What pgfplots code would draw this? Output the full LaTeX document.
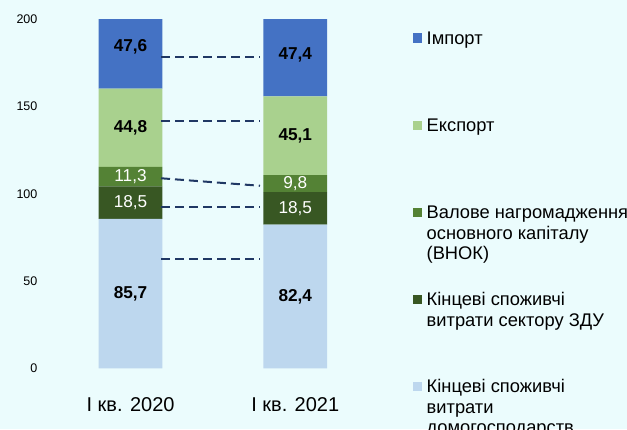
\documentclass[border=0pt]{standalone}
\usepackage{fontspec}
\setmainfont{Liberation Sans}
\usepackage{pgfplots}
\pgfplotsset{compat=1.18}
\definecolor{bgcol}{HTML}{EBFCFD}
\definecolor{impcol}{HTML}{4472C4}
\definecolor{expcol}{HTML}{A9D18E}
\definecolor{vnkcol}{HTML}{548235}
\definecolor{zducol}{HTML}{385723}
\definecolor{hhcol}{HTML}{BDD7EE}
\definecolor{linecol}{HTML}{203864}
\newcommand{\lgd}[1]{\raisebox{0pt}[12.5pt][0pt]{\parbox[t]{240pt}{#1}}}
\begin{document}
\begin{tikzpicture}
\fill[bgcol,use as bounding box] (-44.9pt,-60.7pt) rectangle (582.1pt,368.3pt);
\begin{axis}[scale only axis, width=336pt, height=349pt,
  xmin=-0.52, xmax=1.52, ymin=0, ymax=200,
  ybar stacked, bar width=63.7pt,
  xtick={0,1}, xticklabels={І кв. 2020, І кв. 2021},
  ytick={0,50,100,150,200},
  axis line style={draw=none}, major tick length=0pt,
  /pgf/number format/assume math mode=true,
  yticklabel style={font=\fontsize{12.5}{15}\selectfont, xshift=-4pt},
  xticklabel style={font=\fontsize{20}{24}\selectfont, anchor=base, yshift=-43.4pt},
  reverse legend,
  legend style={at={(1.0955,0.964)}, anchor=north west, draw=none, fill=none,
    inner sep=0pt, outer sep=0pt, row sep=73.1pt, column sep=4.4pt,
    nodes={inner sep=0pt}, cells={anchor=base west},
    font=\fontsize{18.3}{20.5}\selectfont},
  legend image code/.code={\fill[#1] (0pt,1.6pt) rectangle (9.3pt,10.9pt);},
]
\addplot[fill=hhcol, draw=none] coordinates {(0,85.7) (1,82.4)};
\addlegendentry{\lgd{Кінцеві споживчі\\витрати\\домогосподарств}}
\addplot[fill=zducol, draw=none] coordinates {(0,18.5) (1,18.5)};
\addlegendentry{\lgd{Кінцеві споживчі\\витрати сектору ЗДУ}}
\addplot[fill=vnkcol, draw=none] coordinates {(0,11.3) (1,9.8)};
\addlegendentry{\lgd{Валове нагромадження\\основного капіталу\\(ВНОК)}}
\addplot[fill=expcol, draw=none] coordinates {(0,44.8) (1,45.1)};
\addlegendentry{\lgd{Експорт}}
\addplot[fill=impcol, draw=none] coordinates {(0,47.6) (1,47.4)};
\addlegendentry{\lgd{Імпорт}}
\end{axis}
\begin{axis}[scale only axis, width=336pt, height=349pt,
  xmin=-0.52, xmax=1.52, ymin=0, ymax=200, hide axis, clip=false]
\addplot[linecol, line width=2pt, dash pattern=on 9pt off 5pt] coordinates {(0.185,62.4) (0.786,62.4)};
\addplot[linecol, line width=2pt, dash pattern=on 9pt off 5pt] coordinates {(0.185,92.6) (0.786,92.6)};
\addplot[linecol, line width=2pt, dash pattern=on 9pt off 5pt] coordinates {(0.185,108.9) (0.786,104.6)};
\addplot[linecol, line width=2pt, dash pattern=on 9pt off 5pt] coordinates {(0.185,141.9) (0.786,141.9)};
\addplot[linecol, line width=2pt, dash pattern=on 9pt off 5pt] coordinates {(0.185,178.2) (0.786,178.2)};
\addplot[draw=none, mark=none, nodes near coords,
  point meta=explicit symbolic,
  every node near coord/.append style={font=\fontsize{17.2}{20}\selectfont\bfseries, anchor=center, text=black}]
  table[meta=lbl] {
x y lbl
0 42.85 85,7
0 137.9 44,8
0 184.1 47,6
1 41.2 82,4
1 133.25 45,1
1 179.5 47,4
};
\addplot[draw=none, mark=none, nodes near coords,
  point meta=explicit symbolic,
  every node near coord/.append style={font=\fontsize{17.2}{20}\selectfont, anchor=center, text=white}]
  table[meta=lbl] {
x y lbl
0 94.95 18,5
0 109.85 11,3
1 91.65 18,5
1 105.8 9,8
};
\end{axis}
\end{tikzpicture}
\end{document}
